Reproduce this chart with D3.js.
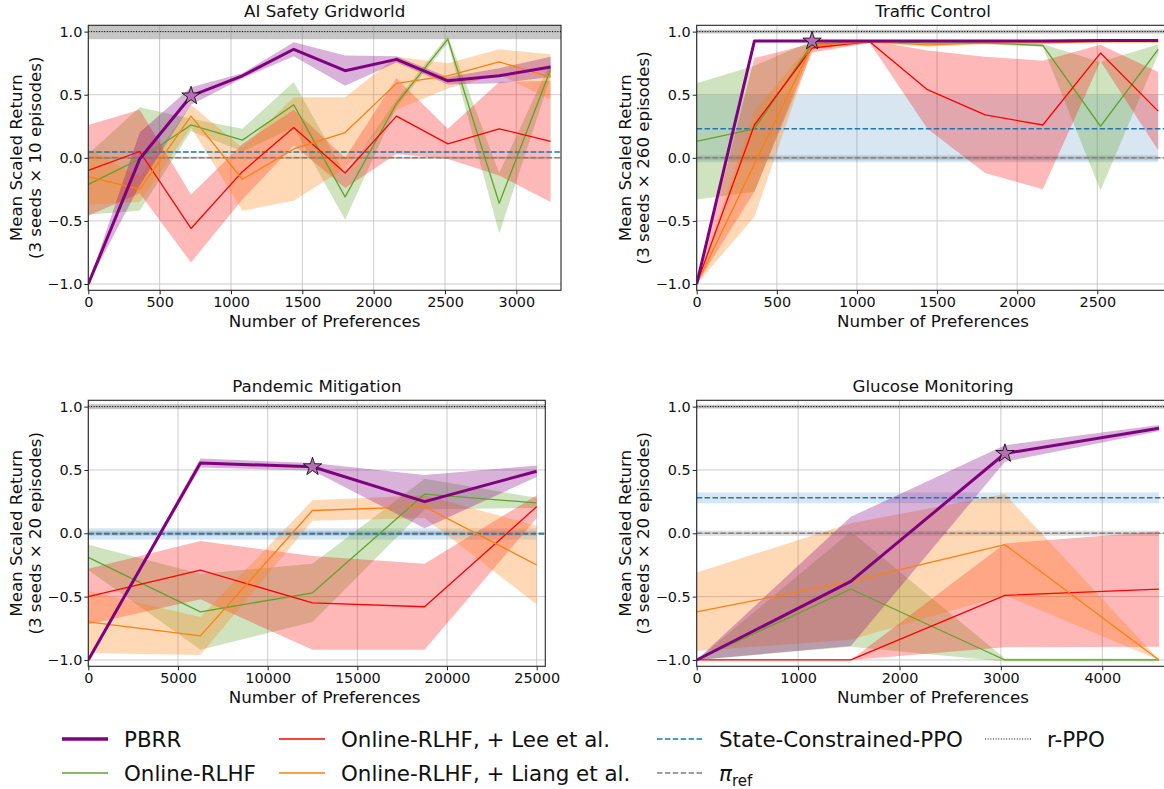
<!DOCTYPE html>
<html>
<head>
<meta charset="utf-8">
<script src="https://cdn.jsdelivr.net/npm/d3@7"></script>
<style>
  body { margin: 0; background: #fff; }
  svg { font-family: "DejaVu Sans", sans-serif; display: block; }
</style>
</head>
<body>
<svg id="fig" width="1164" height="789"></svg>
<script>
// ---------- data: mean and standard deviation per method ----------
// AI Safety Gridworld
const xSafety = [0, 360, 720, 1080, 1440, 1800, 2160, 2520, 2880, 3240];
const safetyPbrr = [-1.0, -0.01, 0.49, 0.65, 0.86, 0.69, 0.78, 0.61, 0.65, 0.72];
const safetyPbrrSd = [0, 0.21, 0.07, 0.02, 0.055, 0.12, 0.025, 0.03, 0.06, 0.08];
const safetyOnline = [-0.21, -0.01, 0.26, 0.14, 0.42, -0.31, 0.43, 0.94, -0.36, 0.70];
const safetyOnlineSd = [0.24, 0.41, 0.05, 0.09, 0.18, 0.18, 0.03, 0.03, 0.24, 0.06];
const safetyLee = [-0.10, 0.05, -0.56, -0.11, 0.24, -0.12, 0.33, 0.11, 0.23, 0.13];
const safetyLeeSd = [0.36, 0.33, 0.27, 0.22, 0.14, 0.12, 0.30, 0.12, 0.37, 0.48];
const safetyLiang = [-0.15, -0.25, 0.33, -0.17, 0.07, 0.20, 0.59, 0.65, 0.76, 0.64];
const safetyLiangSd = [0.22, 0.10, 0.09, 0.25, 0.41, 0.28, 0.21, 0.10, 0.10, 0.18];
const safetyRefs = { constrained: [0.045, 0.005], piRef: [0.0, 0.01], rppo: [1.0, 0.06] };

// Traffic Control
const xTraffic = [0, 360, 720, 1080, 1440, 1800, 2160, 2520, 2880];
const trafficPbrr = [-1.0, 0.925, 0.925, 0.925, 0.925, 0.925, 0.925, 0.93, 0.93];
const trafficPbrrSd = [0, 0.005, 0.01, 0.005, 0.005, 0.005, 0.005, 0.005, 0.005];
const trafficOnline = [0.13, 0.23, 0.90, 0.92, 0.91, 0.91, 0.89, 0.25, 0.86];
const trafficOnlineSd = [0.46, 0.50, 0.025, 0.01, 0.01, 0.01, 0.01, 0.51, 0.04];
const trafficLee = [-1.0, 0.26, 0.87, 0.92, 0.54, 0.34, 0.26, 0.83, 0.37];
const trafficLeeSd = [0, 0.53, 0.035, 0.01, 0.31, 0.46, 0.51, 0.065, 0.31];
const trafficLiang = [-1.0, -0.05, 0.89, 0.92, 0.895, 0.91, 0.91, 0.92, 0.92];
const trafficLiangSd = [0, 0.42, 0.03, 0.01, 0.015, 0.01, 0.01, 0.01, 0.01];
const trafficRefs = { constrained: [0.23, 0.265], piRef: [0.0, 0.02], rppo: [1.0, 0.015] };

// Pandemic Mitigation
const xPandemic = [0, 6250, 12500, 18750, 25000];
const pandemicPbrr = [-1.0, 0.555, 0.525, 0.25, 0.49];
const pandemicPbrrSd = [0, 0.035, 0.03, 0.21, 0.045];
const pandemicOnline = [-0.19, -0.62, -0.47, 0.31, 0.24];
const pandemicOnlineSd = [0.10, 0.30, 0.23, 0.12, 0.04];
const pandemicLee = [-0.50, -0.29, -0.55, -0.58, 0.21];
const pandemicLeeSd = [0.22, 0.23, 0.37, 0.34, 0.09];
const pandemicLiang = [-0.70, -0.81, 0.18, 0.21, -0.25];
const pandemicLiangSd = [0.245, 0.15, 0.08, 0.09, 0.31];
const pandemicRefs = { constrained: [-0.005, 0.045], piRef: [0.0, 0.02], rppo: [1.0, 0.02] };

// Glucose Monitoring
const xGlucose = [0, 1520, 3040, 4560];
const glucosePbrr = [-1.0, -0.38, 0.63, 0.83];
const glucosePbrrSd = [0, 0.51, 0.065, 0.025];
const glucoseOnline = [-1.0, -0.44, -1.0, -1.0];
const glucoseOnlineSd = [0, 0.455, 0.012, 0.01];
const glucoseLee = [-1.0, -1.0, -0.49, -0.44];
const glucoseLeeSd = [0, 0, 0.41, 0.455];
const glucoseLiang = [-0.62, -0.38, -0.09, -1.0];
const glucoseLiangSd = [0.31, 0.46, 0.40, 0];
const glucoseRefs = { constrained: [0.28, 0.042], piRef: [0.0, 0.02], rppo: [1.0, 0.015] };

// Panel titles, episode counts and tick labels
const panelTitles = ["AI Safety Gridworld", "Traffic Control", "Pandemic Mitigation", "Glucose Monitoring"];
const episodeCounts = [10, 260, 20, 20];
const xTicksSafety = [0, 500, 1000, 1500, 2000, 2500, 3000];
const xTicksTraffic = [0, 500, 1000, 1500, 2000, 2500];
const xTicksPandemic = [0, 5000, 10000, 15000, 20000, 25000];
const xTicksGlucose = [0, 1000, 2000, 3000, 4000];
const yTicks = [-1.0, -0.5, 0.0, 0.5, 1.0];
const starIndex = 2; // highlighted PBRR checkpoint

const legendLabels = ["PBRR", "Online-RLHF", "Online-RLHF, + Lee et al.", "Online-RLHF, + Liang et al.",
  "State-Constrained-PPO", "π_ref", "r-PPO"];

// ---------- styles ----------
const methodStyle = {
  online: { color: "#62a22c", width: 1.3, fill: 0.3 },
  lee:    { color: "#ff0000", width: 1.3, fill: 0.28 },
  liang:  { color: "#ff7f0e", width: 1.3, fill: 0.3 },
  pbrr:   { color: "#800080", width: 3.0, fill: 0.3 }
};
const refStyle = {
  constrained: { color: "#1f77b4", dash: "5.5,2.4", width: 1.5, band: "#1f77b4", bandOpacity: 0.18 },
  piRef:       { color: "#808080", dash: "5.5,2.4", width: 1.5, band: "#808080", bandOpacity: 0.25 },
  rppo:        { color: "#000000", dash: "1,1.65", width: 1.0, band: "#808080", bandOpacity: 0.45 }
};

const panels = [
  { x: xSafety, ticks: xTicksSafety, xMax: 3313, refs: safetyRefs,
    m: { pbrr: [safetyPbrr, safetyPbrrSd], online: [safetyOnline, safetyOnlineSd],
         lee: [safetyLee, safetyLeeSd], liang: [safetyLiang, safetyLiangSd] },
    box: { left: 88.3, top: 25.3, width: 472.7, height: 265 } },
  { x: xTraffic, ticks: xTicksTraffic, xMax: 2950, refs: trafficRefs,
    m: { pbrr: [trafficPbrr, trafficPbrrSd], online: [trafficOnline, trafficOnlineSd],
         lee: [trafficLee, trafficLeeSd], liang: [trafficLiang, trafficLiangSd] },
    box: { left: 696.7, top: 25.3, width: 472.7, height: 265 } },
  { x: xPandemic, ticks: xTicksPandemic, xMax: 25480, refs: pandemicRefs,
    m: { pbrr: [pandemicPbrr, pandemicPbrrSd], online: [pandemicOnline, pandemicOnlineSd],
         lee: [pandemicLee, pandemicLeeSd], liang: [pandemicLiang, pandemicLiangSd] },
    box: { left: 88.3, top: 400.3, width: 457, height: 266 } },
  { x: xGlucose, ticks: xTicksGlucose, xMax: 4662, refs: glucoseRefs,
    m: { pbrr: [glucosePbrr, glucosePbrrSd], online: [glucoseOnline, glucoseOnlineSd],
         lee: [glucoseLee, glucoseLeeSd], liang: [glucoseLiang, glucoseLiangSd] },
    box: { left: 696.7, top: 400.3, width: 472.7, height: 266 } }
];

const svg = d3.select("#fig");
const drawOrder = ["online", "lee", "liang", "pbrr"];

panels.forEach((p, i) => {
  const b = p.box;
  const g = svg.append("g").attr("transform", `translate(${b.left},${b.top})`);
  const x = d3.scaleLinear().domain([0, p.xMax]).range([0, b.width]);
  const y = d3.scaleLinear().domain([-1.05, 1.05]).range([b.height, 0]);
  const clipId = "clip" + i;
  g.append("clipPath").attr("id", clipId).append("rect")
    .attr("width", b.width).attr("height", b.height);

  // grid
  const grid = g.append("g").attr("stroke", "#c6c6c6").attr("stroke-width", 0.9);
  p.ticks.forEach(t => grid.append("line").attr("x1", x(t)).attr("x2", x(t)).attr("y1", 0).attr("y2", b.height));
  yTicks.forEach(t => grid.append("line").attr("x1", 0).attr("x2", b.width).attr("y1", y(t)).attr("y2", y(t)));

  const plot = g.append("g").attr("clip-path", `url(#${clipId})`);
  const lastX = p.x[p.x.length - 1];

  // baseline bands
  ["rppo", "piRef", "constrained"].forEach(k => {
    const [mu, sd] = p.refs[k];
    const s = refStyle[k];
    const x1 = k === "rppo" ? b.width : x(lastX);
    plot.append("rect").attr("x", 0).attr("width", x1)
      .attr("y", y(mu + sd)).attr("height", y(mu - sd) - y(mu + sd))
      .attr("fill", s.band).attr("fill-opacity", s.bandOpacity);
  });

  // method bands (mean ± one standard deviation)
  const area = d3.area().x(d => x(d[0])).y0(d => y(d[1] - d[2])).y1(d => y(d[1] + d[2]));
  drawOrder.forEach(k => {
    const [mu, sd] = p.m[k];
    const pts = p.x.map((xv, j) => [xv, mu[j], sd[j]]);
    plot.append("path").attr("d", area(pts))
      .attr("fill", methodStyle[k].color).attr("fill-opacity", methodStyle[k].fill);
  });

  // baseline lines
  ["piRef", "constrained", "rppo"].forEach(k => {
    const s = refStyle[k];
    const mu = p.refs[k][0];
    plot.append("line").attr("x1", 0).attr("x2", b.width).attr("y1", y(mu)).attr("y2", y(mu))
      .attr("stroke", s.color).attr("stroke-width", s.width).attr("stroke-dasharray", s.dash);
  });

  // method mean lines
  const line = d3.line().x(d => x(d[0])).y(d => y(d[1]));
  drawOrder.forEach(k => {
    const mu = p.m[k][0];
    plot.append("path").attr("d", line(p.x.map((xv, j) => [xv, mu[j]])))
      .attr("fill", "none").attr("stroke", methodStyle[k].color)
      .attr("stroke-width", methodStyle[k].width)
      .attr("stroke-linejoin", "round").attr("stroke-linecap", "butt");
  });

  // highlighted checkpoint
  g.append("path")
    .attr("d", d3.symbol().type(d3.symbolStar).size(105)())
    .attr("transform", `translate(${x(p.x[starIndex])},${y(p.m.pbrr[0][starIndex])})`)
    .attr("fill", "#b46fb4").attr("stroke", "#000").attr("stroke-width", 0.8);

  // axes
  const xAxis = d3.axisBottom(x).tickValues(p.ticks).tickFormat(d3.format("d")).tickSize(4).tickPadding(2.8);
  const yAxis = d3.axisLeft(y).tickValues(yTicks).tickFormat(d3.format(".1f")).tickSize(4).tickPadding(2);
  const gx = g.append("g").attr("transform", `translate(0,${b.height})`).call(xAxis);
  const gy = g.append("g").call(yAxis);
  [gx, gy].forEach(a => {
    a.select(".domain").remove();
    a.selectAll("line").attr("stroke", "#222").attr("stroke-width", 1);
    a.selectAll("text").attr("font-size", "14.4px").attr("fill", "#111")
      .attr("font-family", "DejaVu Sans, sans-serif");
  });

  // frame
  g.append("rect").attr("width", b.width).attr("height", b.height)
    .attr("fill", "none").attr("stroke", "#262626").attr("stroke-width", 1.1);

  // title and labels
  g.append("text").attr("x", b.width / 2).attr("y", -8.5)
    .attr("text-anchor", "middle").attr("font-size", "16.7px").attr("fill", "#111")
    .text(panelTitles[i]);
  g.append("text").attr("x", 236.3).attr("y", b.height + 37)
    .attr("text-anchor", "middle").attr("font-size", "16.7px").attr("fill", "#111")
    .text("Number of Preferences");
  const yl = g.append("text").attr("transform", `translate(-66,${b.height / 2}) rotate(-90)`)
    .attr("text-anchor", "middle").attr("font-size", "16.7px").attr("fill", "#111");
  yl.append("tspan").attr("x", 0).attr("y", 0).text("Mean Scaled Return");
  yl.append("tspan").attr("x", 0).attr("y", 18.5).text(`(3 seeds \u00d7 ${episodeCounts[i]} episodes)`);
});

// ---------- legend ----------
const legendStyles = [
  { color: "#800080", width: 3.4 },
  { color: methodStyle.online.color, width: 1.6 },
  { color: methodStyle.lee.color, width: 1.6 },
  { color: methodStyle.liang.color, width: 1.6 },
  { color: refStyle.constrained.color, width: 1.6, dash: refStyle.constrained.dash },
  { color: refStyle.piRef.color, width: 1.6, dash: refStyle.piRef.dash },
  { color: refStyle.rppo.color, width: 1.0, dash: refStyle.rppo.dash }
];
const colX = [62, 279, 657, 985];
const rowY = [739, 773];
const legend = svg.append("g");
legendLabels.forEach((lab, k) => {
  const c = Math.floor(k / 2), r = k % 2;
  const lx = colX[c], ly = rowY[r];
  const st = legendStyles[k];
  legend.append("line").attr("x1", lx).attr("x2", lx + 46).attr("y1", ly).attr("y2", ly)
    .attr("stroke", st.color).attr("stroke-width", st.width)
    .attr("stroke-dasharray", st.dash || null);
  const t = legend.append("text").attr("x", lx + 62).attr("y", ly + 8)
    .attr("font-size", "21.4px").attr("fill", "#111");
  if (lab === "π_ref") {
    t.append("tspan").attr("font-style", "italic").text("π");
    t.append("tspan").attr("font-size", "15px").attr("dy", 5).text("ref");
  } else {
    t.text(lab);
  }
});
</script>
</body>
</html>
